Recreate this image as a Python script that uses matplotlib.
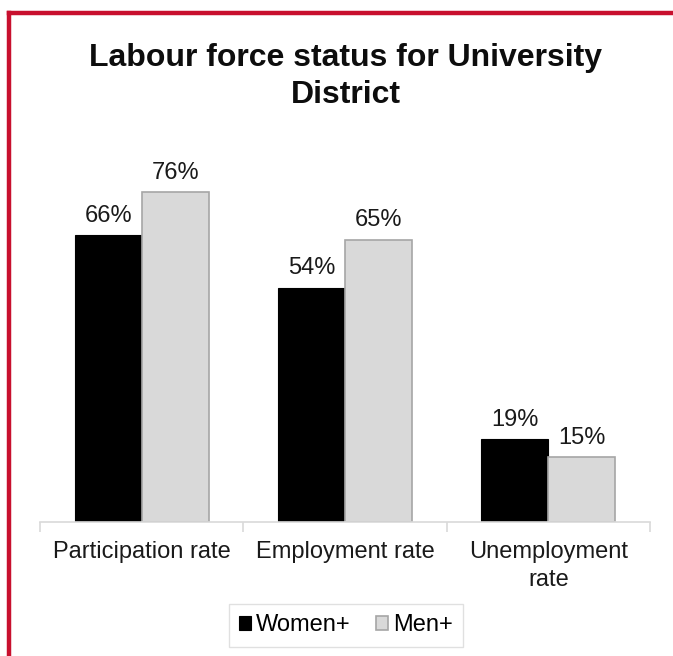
import numpy as np
import matplotlib.pyplot as plt
from matplotlib.lines import Line2D

# ==========================================
# DATA
# ==========================================

categories = ["Participation rate", "Employment rate", "Unemployment\nrate"]
women = [0.66, 0.54, 0.19]
men = [0.76, 0.65, 0.15]
series_names = ["Women+", "Men+"]

plt.rcParams["font.family"] = ["Liberation Sans", "DejaVu Sans"]

# ==========================================
# PLOT
# ==========================================

fig = plt.figure(figsize=(6.73, 6.56), dpi=100)
ax = fig.add_axes([0.0594, 0.2043, 0.9064, 0.5625])

x = np.arange(len(categories))
w = 0.33

b1 = ax.bar(x - w / 2, women, w, color="black", edgecolor="black", linewidth=0.8,
            label=series_names[0])
b2 = ax.bar(x + w / 2, men, w, color="#D9D9D9", edgecolor="#A6A6A6", linewidth=1.2,
            label=series_names[1])

for bars in (b1, b2):
    for bar in bars:
        h = bar.get_height()
        ax.annotate(f"{h:.0%}", (bar.get_x() + bar.get_width() / 2, h),
                    xytext=(0, 6), textcoords="offset points",
                    ha="center", va="bottom", fontsize=17, color="#1a1a1a")

ax.set_xlim(-0.5, 2.5)
ax.set_ylim(0, 0.85)
ax.set_yticks([])
for s in ["top", "right", "left"]:
    ax.spines[s].set_visible(False)
ax.spines["bottom"].set_color("#D9D9D9")
ax.spines["bottom"].set_linewidth(1.2)

ax.set_xticks(x)
ax.set_xticklabels(categories, fontsize=17, color="#1a1a1a", linespacing=1.3)
ax.tick_params(axis="x", which="major", length=0, pad=14)
ax.set_xticks([-0.5, 0.5, 1.5, 2.5], minor=True)
ax.tick_params(axis="x", which="minor", length=7, color="#D9D9D9", width=1.2)

fig.suptitle("Labour force status for University\nDistrict", x=0.514, y=0.884,
             va="center", fontsize=23, fontweight="bold", color="#0d0d0d",
             linespacing=1.3)

leg = fig.legend(handles=[b1, b2], labels=series_names, loc="center",
                 bbox_to_anchor=(0.514, 0.047), ncol=2, fontsize=17,
                 frameon=True, fancybox=False, edgecolor="#D9D9D9",
                 handlelength=0.5, handleheight=0.5, handletextpad=0.2,
                 columnspacing=1.1, borderpad=0.45)
leg.get_frame().set_linewidth(1.0)

# red frame on top and left
fig.add_artist(Line2D([9 / 673, 1.0], [1 - 13 / 656, 1 - 13 / 656],
                      transform=fig.transFigure, color="#C8102E", linewidth=3.2))
fig.add_artist(Line2D([9 / 673, 9 / 673], [0.0, 1 - 13 / 656],
                      transform=fig.transFigure, color="#C8102E", linewidth=3.2,
                      solid_capstyle="projecting"))

fig.savefig("out.png", dpi=100)
